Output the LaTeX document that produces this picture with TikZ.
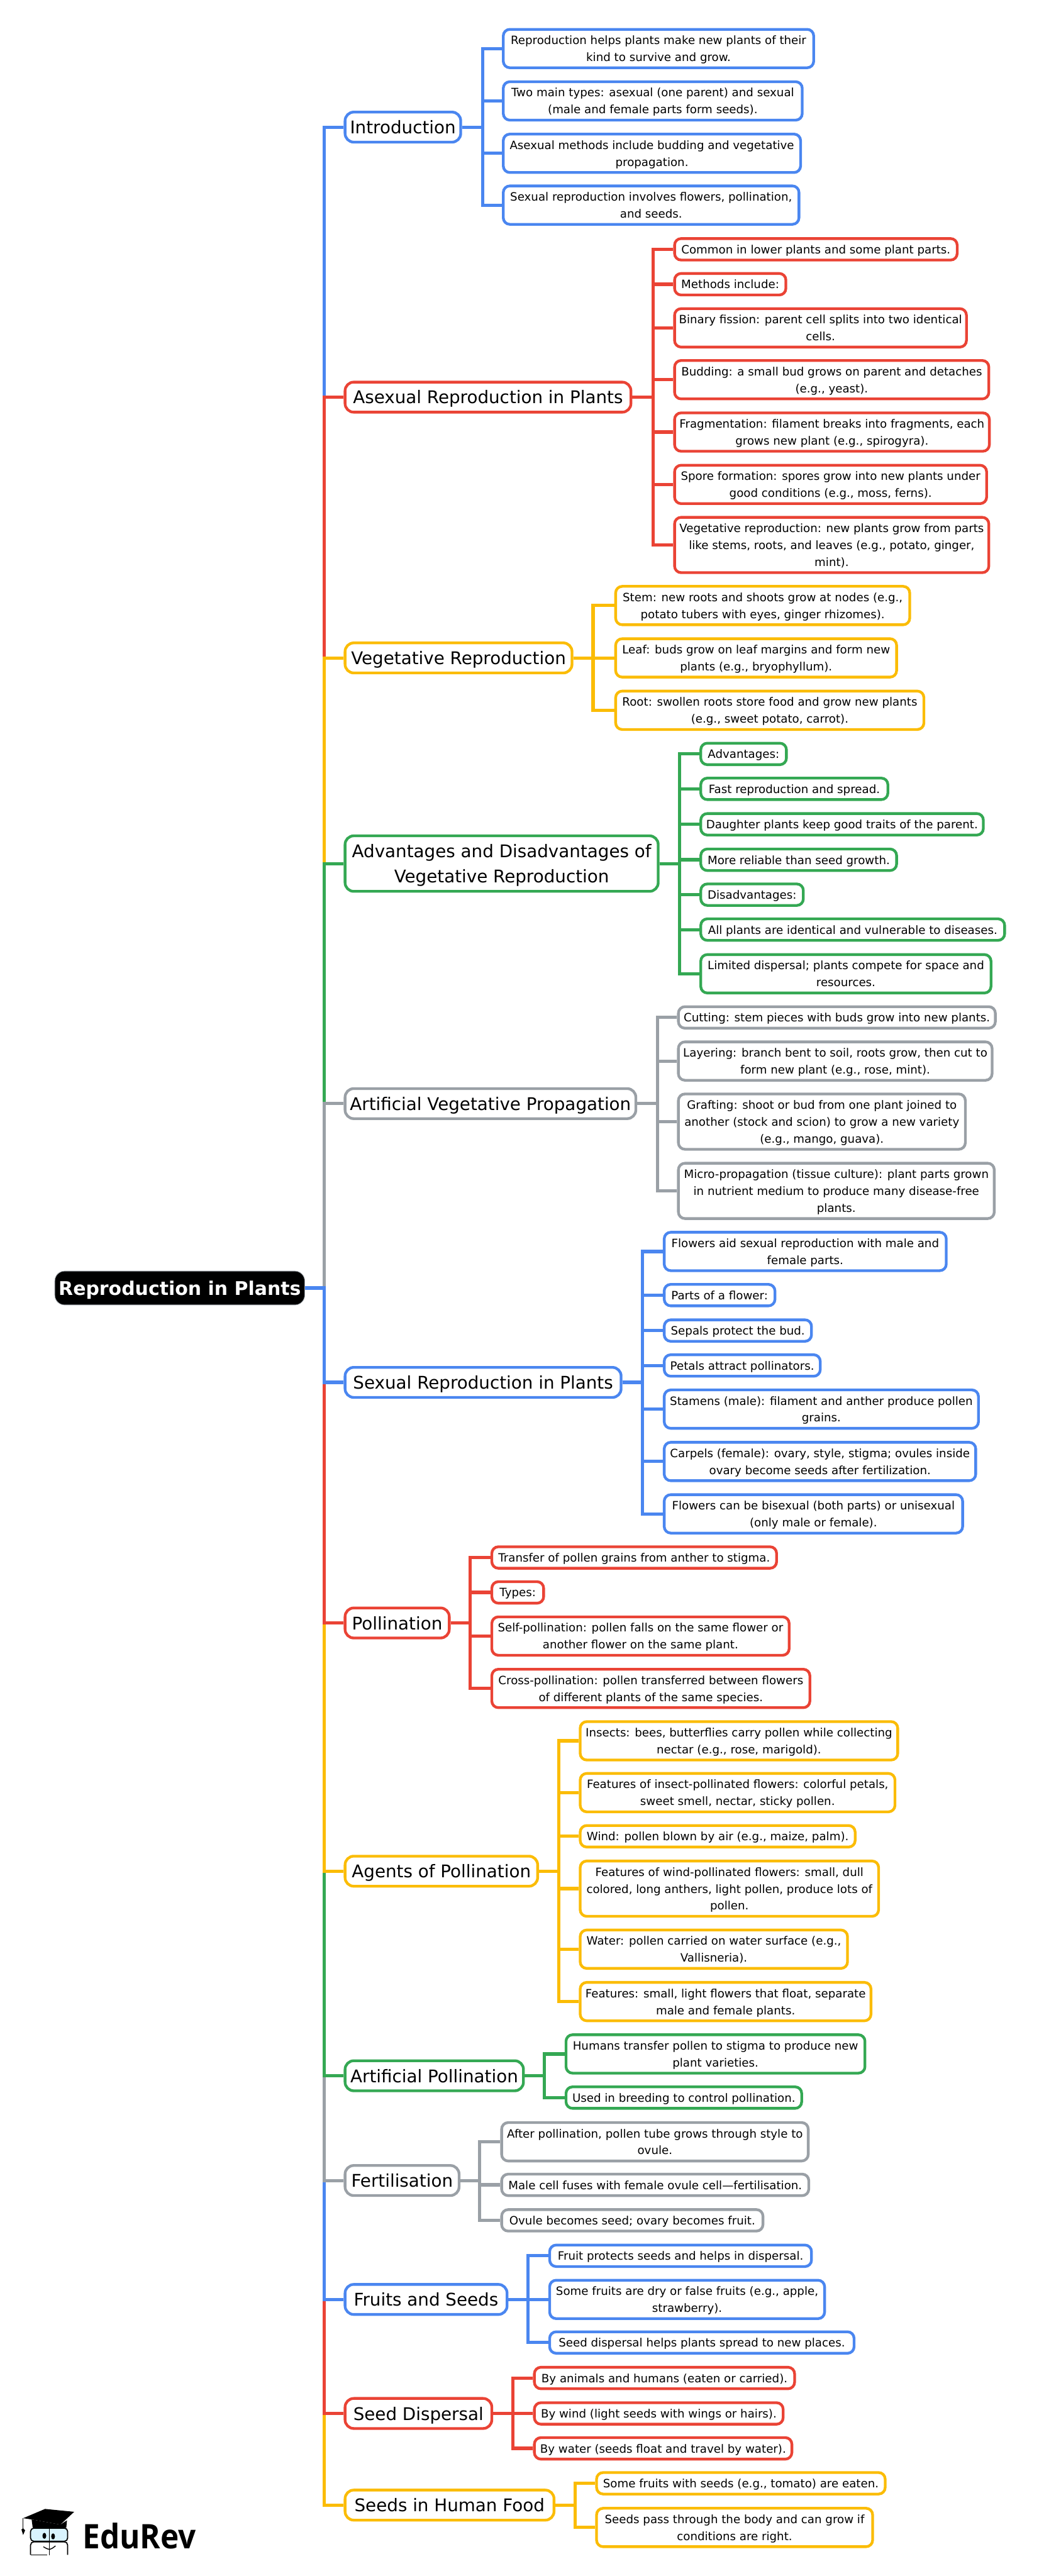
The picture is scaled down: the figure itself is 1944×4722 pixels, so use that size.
\documentclass[tikz,border=0pt]{standalone}
\usepackage{fontspec}
\setmainfont{DejaVu Sans}
\newfontfamily\logofont[FakeStretch=0.92]{Open Sans}
\usepackage{tikz}
\definecolor{gblue}{HTML}{4A86F0}
\definecolor{gred}{HTML}{EA4335}
\definecolor{gyellow}{HTML}{FBBC05}
\definecolor{ggreen}{HTML}{34A853}
\definecolor{ggray}{HTML}{9AA0A6}
\tikzset{
wide/.style={minimum width=#1*0.5pt},
rows/.style={text height={11.75pt+15.5pt*(#1-1)}},
bigrows/.style={text height={17.7pt+23.35pt*(#1-1)}},
rootnode/.style={draw=ggray,line width=.5pt,fill=black,text=white,rounded corners=9pt,anchor=west,inner xsep=1pt,minimum height=31pt,text height=15.5pt,text depth=2.5pt,font=\fontsize{17.25pt}{24pt}\selectfont\bfseries},
branch/.style={draw=#1,line width=2.5pt,fill=white,rounded corners=8pt,anchor=west,align=center,inner xsep=1pt,inner ysep=2.1pt,bigrows=1,text depth=5.65pt,font=\fontsize{16pt}{23.35pt}\selectfont},
leaf/.style={draw=#1,line width=2.5pt,fill=white,rounded corners=6pt,anchor=west,align=center,inner xsep=1pt,inner ysep=2.1pt,rows=1,text depth=3.75pt,font=\fontsize{10.5pt}{15.5pt}\selectfont},
link/.style={draw=#1,line width=3pt,line join=miter},
}
\begin{document}
\begin{tikzpicture}[x=0.5pt,y=-0.5pt]
\useasboundingbox (0,0) rectangle (1944,4722);
\node[rootnode,wide=458] (root) at (100,2361) {Reproduction in Plants};
\coordinate (mainbus) at (594,2361);
\node[branch=gblue,wide=212] (intro) at (630,233) {Introduction};
\node[branch=gred,wide=524] (asexual) at (630,728) {Asexual Reproduction in Plants};
\node[branch=gyellow,wide=416] (vegetative) at (630,1206) {Vegetative Reproduction};
\node[branch=ggreen,wide=574,bigrows=2] (advantages) at (630,1583) {Advantages and Disadvantages of\\Vegetative Reproduction};
\node[branch=ggray,wide=533] (artveg) at (630,2023) {Artificial Vegetative Propagation};
\node[branch=gblue,wide=506] (sexual) at (630,2534) {Sexual Reproduction in Plants};
\node[branch=gred,wide=191] (pollination) at (630,2975) {Pollination};
\node[branch=gyellow,wide=353] (agents) at (630,3430) {Agents of Pollination};
\node[branch=ggreen,wide=327] (artpoll) at (630,3805) {Artificial Pollination};
\node[branch=ggray,wide=209] (fertil) at (630,3997) {Fertilisation};
\node[branch=gblue,wide=297] (fruits) at (630,4215) {Fruits and Seeds};
\node[branch=gred,wide=269] (dispersal) at (630,4424) {Seed Dispersal};
\node[branch=gyellow,wide=383] (food) at (630,4592) {Seeds in Human Food};
\draw[link=gblue] (root.east) -- (mainbus) |- (intro.west);
\draw[link=gred] (root.east) -- (mainbus) |- (asexual.west);
\draw[link=gyellow] (root.east) -- (mainbus) |- (vegetative.west);
\draw[link=ggreen] (root.east) -- (mainbus) |- (advantages.west);
\draw[link=ggray] (root.east) -- (mainbus) |- (artveg.west);
\draw[link=gyellow] (root.east) -- (mainbus) |- (food.west);
\draw[link=gred] (root.east) -- (mainbus) |- (dispersal.west);
\draw[link=gblue] (root.east) -- (mainbus) |- (fruits.west);
\draw[link=ggray] (root.east) -- (mainbus) |- (fertil.west);
\draw[link=ggreen] (root.east) -- (mainbus) |- (artpoll.west);
\draw[link=gyellow] (root.east) -- (mainbus) |- (agents.west);
\draw[link=gred] (root.east) -- (mainbus) |- (pollination.west);
\draw[link=gblue] (root.east) -- (mainbus) |- (sexual.west);
\coordinate (introbus) at (885,233);
\node[leaf=gblue,wide=569,rows=2] (intro1) at (920,89) {Reproduction helps plants make new plants of their\\kind to survive and grow.};
\node[leaf=gblue,wide=548,rows=2] (intro2) at (920,185) {Two main types: asexual (one parent) and sexual\\(male and female parts form seeds).};
\node[leaf=gblue,wide=545,rows=2] (intro3) at (920,281) {Asexual methods include budding and vegetative\\propagation.};
\node[leaf=gblue,wide=542,rows=2] (intro4) at (920,376) {Sexual reproduction involves flowers, pollination,\\and seeds.};
\draw[link=gblue] (intro.east) -- (introbus) |- (intro1.west);
\draw[link=gblue] (intro.east) -- (introbus) |- (intro2.west);
\draw[link=gblue] (intro.east) -- (introbus) |- (intro3.west);
\draw[link=gblue] (intro.east) -- (introbus) |- (intro4.west);
\coordinate (asexualbus) at (1197,728);
\node[leaf=gred,wide=518] (asexual1) at (1234,457) {Common in lower plants and some plant parts.};
\node[leaf=gred,wide=204] (asexual2) at (1234,521) {Methods include:};
\node[leaf=gred,wide=535,rows=2] (asexual3) at (1234,601) {Binary fission: parent cell splits into two identical\\cells.};
\node[leaf=gred,wide=576,rows=2] (asexual4) at (1234,696) {Budding: a small bud grows on parent and detaches\\(e.g., yeast).};
\node[leaf=gred,wide=577,rows=2] (asexual5) at (1234,792) {Fragmentation: filament breaks into fragments, each\\grows new plant (e.g., spirogyra).};
\node[leaf=gred,wide=572,rows=2] (asexual6) at (1234,888) {Spore formation: spores grow into new plants under\\good conditions (e.g., moss, ferns).};
\node[leaf=gred,wide=576,rows=3] (asexual7) at (1234,999) {Vegetative reproduction: new plants grow from parts\\like stems, roots, and leaves (e.g., potato, ginger,\\mint).};
\draw[link=gred] (asexual.east) -- (asexualbus) |- (asexual1.west);
\draw[link=gred] (asexual.east) -- (asexualbus) |- (asexual2.west);
\draw[link=gred] (asexual.east) -- (asexualbus) |- (asexual3.west);
\draw[link=gred] (asexual.east) -- (asexualbus) |- (asexual4.west);
\draw[link=gred] (asexual.east) -- (asexualbus) |- (asexual5.west);
\draw[link=gred] (asexual.east) -- (asexualbus) |- (asexual6.west);
\draw[link=gred] (asexual.east) -- (asexualbus) |- (asexual7.west);
\coordinate (vegetativebus) at (1087,1206);
\node[leaf=gyellow,wide=539,rows=2] (vegetative1) at (1126,1110) {Stem: new roots and shoots grow at nodes (e.g.,\\potato tubers with eyes, ginger rhizomes).};
\node[leaf=gyellow,wide=515,rows=2] (vegetative2) at (1126,1206) {Leaf: buds grow on leaf margins and form new\\plants (e.g., bryophyllum).};
\node[leaf=gyellow,wide=565,rows=2] (vegetative3) at (1126,1302) {Root: swollen roots store food and grow new plants\\(e.g., sweet potato, carrot).};
\draw[link=gyellow] (vegetative.east) -- (vegetativebus) |- (vegetative1.west);
\draw[link=gyellow] (vegetative.east) -- (vegetativebus) |- (vegetative2.west);
\draw[link=gyellow] (vegetative.east) -- (vegetativebus) |- (vegetative3.west);
\coordinate (advantagesbus) at (1246,1583);
\node[leaf=ggreen,wide=157] (advantages1) at (1282,1382) {Advantages:};
\node[leaf=ggreen,wide=343] (advantages2) at (1282,1446) {Fast reproduction and spread.};
\node[leaf=ggreen,wide=518] (advantages3) at (1282,1511) {Daughter plants keep good traits of the parent.};
\node[leaf=ggreen,wide=359] (advantages4) at (1282,1576) {More reliable than seed growth.};
\node[leaf=ggreen,wide=188] (advantages5) at (1282,1640) {Disadvantages:};
\node[leaf=ggreen,wide=557] (advantages6) at (1282,1704) {All plants are identical and vulnerable to diseases.};
\node[leaf=ggreen,wide=532,rows=2] (advantages7) at (1282,1785) {Limited dispersal; plants compete for space and\\resources.};
\draw[link=ggreen] (advantages.east) -- (advantagesbus) |- (advantages1.west);
\draw[link=ggreen] (advantages.east) -- (advantagesbus) |- (advantages2.west);
\draw[link=ggreen] (advantages.east) -- (advantagesbus) |- (advantages3.west);
\draw[link=ggreen] (advantages.east) -- (advantagesbus) |- (advantages4.west);
\draw[link=ggreen] (advantages.east) -- (advantagesbus) |- (advantages5.west);
\draw[link=ggreen] (advantages.east) -- (advantagesbus) |- (advantages6.west);
\draw[link=ggreen] (advantages.east) -- (advantagesbus) |- (advantages7.west);
\coordinate (artvegbus) at (1205,2023);
\node[leaf=ggray,wide=581] (artveg1) at (1241,1865) {Cutting: stem pieces with buds grow into new plants.};
\node[leaf=ggray,wide=575,rows=2] (artveg2) at (1241,1945) {Layering: branch bent to soil, roots grow, then cut to\\form new plant (e.g., rose, mint).};
\node[leaf=ggray,wide=526,rows=3] (artveg3) at (1241,2056) {Grafting: shoot or bud from one plant joined to\\another (stock and scion) to grow a new variety\\(e.g., mango, guava).};
\node[leaf=ggray,wide=579,rows=3] (artveg4) at (1241,2183) {Micro-propagation (tissue culture): plant parts grown\\in nutrient medium to produce many disease-free\\plants.};
\draw[link=ggray] (artveg.east) -- (artvegbus) |- (artveg1.west);
\draw[link=ggray] (artveg.east) -- (artvegbus) |- (artveg2.west);
\draw[link=ggray] (artveg.east) -- (artvegbus) |- (artveg3.west);
\draw[link=ggray] (artveg.east) -- (artvegbus) |- (artveg4.west);
\coordinate (sexualbus) at (1178,2534);
\node[leaf=gblue,wide=517,rows=2] (sexual1) at (1215,2294) {Flowers aid sexual reproduction with male and\\female parts.};
\node[leaf=gblue,wide=203] (sexual2) at (1215,2374) {Parts of a flower:};
\node[leaf=gblue,wide=270] (sexual3) at (1215,2439) {Sepals protect the bud.};
\node[leaf=gblue,wide=286] (sexual4) at (1215,2503) {Petals attract pollinators.};
\node[leaf=gblue,wide=576,rows=2] (sexual5) at (1215,2583) {Stamens (male): filament and anther produce pollen\\grains.};
\node[leaf=gblue,wide=571,rows=2] (sexual6) at (1215,2679) {Carpels (female): ovary, style, stigma; ovules inside\\ovary become seeds after fertilization.};
\node[leaf=gblue,wide=547,rows=2] (sexual7) at (1215,2775) {Flowers can be bisexual (both parts) or unisexual\\(only male or female).};
\draw[link=gblue] (sexual.east) -- (sexualbus) |- (sexual1.west);
\draw[link=gblue] (sexual.east) -- (sexualbus) |- (sexual2.west);
\draw[link=gblue] (sexual.east) -- (sexualbus) |- (sexual3.west);
\draw[link=gblue] (sexual.east) -- (sexualbus) |- (sexual4.west);
\draw[link=gblue] (sexual.east) -- (sexualbus) |- (sexual5.west);
\draw[link=gblue] (sexual.east) -- (sexualbus) |- (sexual6.west);
\draw[link=gblue] (sexual.east) -- (sexualbus) |- (sexual7.west);
\coordinate (pollinationbus) at (862,2975);
\node[leaf=gred,wide=522] (pollination1) at (899,2855) {Transfer of pollen grains from anther to stigma.};
\node[leaf=gred,wide=95] (pollination2) at (899,2919) {Types:};
\node[leaf=gred,wide=545,rows=2] (pollination3) at (899,2999) {Self-pollination: pollen falls on the same flower or\\another flower on the same plant.};
\node[leaf=gred,wide=583,rows=2] (pollination4) at (899,3095) {Cross-pollination: pollen transferred between flowers\\of different plants of the same species.};
\draw[link=gred] (pollination.east) -- (pollinationbus) |- (pollination1.west);
\draw[link=gred] (pollination.east) -- (pollinationbus) |- (pollination2.west);
\draw[link=gred] (pollination.east) -- (pollinationbus) |- (pollination3.west);
\draw[link=gred] (pollination.east) -- (pollinationbus) |- (pollination4.west);
\coordinate (agentsbus) at (1024,3430);
\node[leaf=gyellow,wide=582,rows=2] (agents1) at (1061,3191) {Insects: bees, butterflies carry pollen while collecting\\nectar (e.g., rose, marigold).};
\node[leaf=gyellow,wide=577,rows=2] (agents2) at (1061,3286) {Features of insect-pollinated flowers: colorful petals,\\sweet smell, nectar, sticky pollen.};
\node[leaf=gyellow,wide=504] (agents3) at (1061,3366) {Wind: pollen blown by air (e.g., maize, palm).};
\node[leaf=gyellow,wide=547,rows=3] (agents4) at (1061,3462) {Features of wind-pollinated flowers: small, dull\\colored, long anthers, light pollen, produce lots of\\pollen.};
\node[leaf=gyellow,wide=490,rows=2] (agents5) at (1061,3573) {Water: pollen carried on water surface (e.g.,\\Vallisneria).};
\node[leaf=gyellow,wide=533,rows=2] (agents6) at (1061,3669) {Features: small, light flowers that float, separate\\male and female plants.};
\draw[link=gyellow] (agents.east) -- (agentsbus) |- (agents1.west);
\draw[link=gyellow] (agents.east) -- (agentsbus) |- (agents2.west);
\draw[link=gyellow] (agents.east) -- (agentsbus) |- (agents3.west);
\draw[link=gyellow] (agents.east) -- (agentsbus) |- (agents4.west);
\draw[link=gyellow] (agents.east) -- (agentsbus) |- (agents5.west);
\draw[link=gyellow] (agents.east) -- (agentsbus) |- (agents6.west);
\coordinate (artpollbus) at (998,3805);
\node[leaf=ggreen,wide=548,rows=2] (artpoll1) at (1035,3765) {Humans transfer pollen to stigma to produce new\\plant varieties.};
\node[leaf=ggreen,wide=432] (artpoll2) at (1035,3845) {Used in breeding to control pollination.};
\draw[link=ggreen] (artpoll.east) -- (artpollbus) |- (artpoll1.west);
\draw[link=ggreen] (artpoll.east) -- (artpollbus) |- (artpoll2.west);
\coordinate (fertilbus) at (879,3997);
\node[leaf=ggray,wide=562,rows=2] (fertil1) at (917,3926) {After pollination, pollen tube grows through style to\\ovule.};
\node[leaf=ggray,wide=563] (fertil2) at (917,4005) {Male cell fuses with female ovule cell—fertilisation.};
\node[leaf=ggray,wide=479] (fertil3) at (917,4070) {Ovule becomes seed; ovary becomes fruit.};
\draw[link=ggray] (fertil.east) -- (fertilbus) |- (fertil1.west);
\draw[link=ggray] (fertil.east) -- (fertilbus) |- (fertil2.west);
\draw[link=ggray] (fertil.east) -- (fertilbus) |- (fertil3.west);
\coordinate (fruitsbus) at (968,4215);
\node[leaf=gblue,wide=480] (fruits1) at (1005,4135) {Fruit protects seeds and helps in dispersal.};
\node[leaf=gblue,wide=504,rows=2] (fruits2) at (1005,4215) {Some fruits are dry or false fruits (e.g., apple,\\strawberry).};
\node[leaf=gblue,wide=558] (fruits3) at (1005,4294) {Seed dispersal helps plants spread to new places.};
\draw[link=gblue] (fruits.east) -- (fruitsbus) |- (fruits1.west);
\draw[link=gblue] (fruits.east) -- (fruitsbus) |- (fruits2.west);
\draw[link=gblue] (fruits.east) -- (fruitsbus) |- (fruits3.west);
\coordinate (dispersalbus) at (940,4424);
\node[leaf=gred,wide=477] (dispersal1) at (977,4359) {By animals and humans (eaten or carried).};
\node[leaf=gred,wide=456] (dispersal2) at (977,4424) {By wind (light seeds with wings or hairs).};
\node[leaf=gred,wide=472] (dispersal3) at (977,4488) {By water (seeds float and travel by water).};
\draw[link=gred] (dispersal.east) -- (dispersalbus) |- (dispersal1.west);
\draw[link=gred] (dispersal.east) -- (dispersalbus) |- (dispersal2.west);
\draw[link=gred] (dispersal.east) -- (dispersalbus) |- (dispersal3.west);
\coordinate (foodbus) at (1054,4592);
\node[leaf=gyellow,wide=529] (food1) at (1091,4552) {Some fruits with seeds (e.g., tomato) are eaten.};
\node[leaf=gyellow,wide=506,rows=2] (food2) at (1091,4633) {Seeds pass through the body and can grow if\\conditions are right.};
\draw[link=gyellow] (food.east) -- (foodbus) |- (food1.west);
\draw[link=gyellow] (food.east) -- (foodbus) |- (food2.west);
\fill[black] (42.4,4616) -- (82.6,4599) -- (136,4604.3) -- (110.7,4627.7) -- (58,4618.3) -- cycle;
\fill[black] (58,4618.3) -- (110.7,4627.7) -- (122.8,4620) -- (121.4,4634) -- (60,4634) -- cycle;
\draw[black,line width=.6pt] (42.4,4616) -- (42.4,4636);
\fill[black] (39.3,4636.7) -- (42.4,4634.3) -- (46,4638.3) -- (42.4,4646.7) -- cycle;
\draw[black,line width=1pt,fill=cyan!15,rounded corners=3pt] (56,4634.3) rectangle (124,4658.3);
\draw[black,line width=1pt,rounded corners=3pt] (56,4683.3) -- (56,4659.3) -- (124,4659.3) -- (124,4683.3);
\draw[black,line width=1pt] (56,4683.3) -- (86,4683.3);
\draw[black,line width=1pt] (90.6,4634.3) -- (90.6,4684);
\fill[black] (81.3,4648.3) ellipse (3.5 and 5.5);
\fill[black] (97.3,4649.3) ellipse (3.5 and 5.5);
\draw[black,line width=.8pt] (79.5,4668.3) .. controls (91,4675) .. (101.8,4666.7);
\node[anchor=base west,inner sep=0pt,font=\logofont\fontsize{31pt}{36pt}\selectfont\bfseries] (logotext) at (151,4672) {EduRev};
\end{tikzpicture}
\end{document}
